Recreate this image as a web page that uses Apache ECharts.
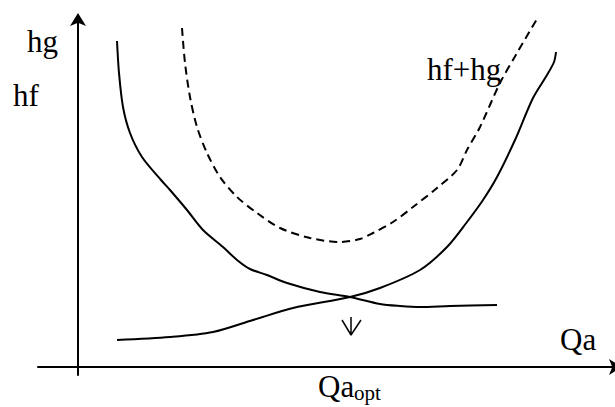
<!DOCTYPE html>
<html>
<head>
<meta charset="utf-8">
<script src="https://cdn.jsdelivr.net/npm/echarts@6/dist/echarts.min.js"></script>
<style>
  html, body { margin: 0; padding: 0; background: #fff; }
  #chart { width: 615px; height: 407px; }
</style>
</head>
<body>
<div id="chart"></div>
<script>
// hf: friction loss, falls with Qa
const hfPoints = [
  [3.9, 32.6], [4.1, 29.4], [4.5, 26.0], [5.2, 23.4], [6.4, 21.0], [8.3, 18.7],
  [9.2, 17.7], [10.9, 15.7], [12.5, 13.7], [14.5, 12.0], [15.9, 10.7], [17.2, 9.8],
  [18.9, 9.2], [20.9, 8.4], [24.2, 7.5], [27.2, 7.0], [30.2, 6.3], [32.2, 6.1],
  [34.2, 6.0], [37.2, 6.1], [41.9, 6.2]
];
// hg: rises with Qa
const hgPoints = [
  [3.9, 2.7], [9.2, 3.0], [13.5, 3.5], [17.5, 4.7], [21.5, 5.9], [27.2, 7.0],
  [30.2, 7.9], [34.2, 9.7], [36.9, 12.0], [38.9, 14.5], [40.5, 16.7], [41.9, 19.0],
  [43.7, 22.7], [45.5, 26.9], [46.9, 29.2], [47.6, 30.5], [47.8, 31.5]
];
// hf + hg
const sumPoints = [
  [10.4, 33.9], [10.7, 30.4], [11.2, 27.0], [11.9, 24.0], [12.9, 21.4], [14.2, 19.0],
  [15.9, 17.0], [17.9, 15.4], [20.2, 13.9], [23.2, 12.9], [26.2, 12.5], [28.2, 12.8],
  [29.5, 13.4], [31.5, 14.5], [33.5, 16.0], [35.9, 17.9], [37.9, 19.7], [38.9, 21.7],
  [40.2, 24.0], [42.2, 28.4], [43.9, 31.4], [45.9, 34.8]
];
// down arrow at Qa opt
const qaOpt = 27.3;
const arrowTop = 5.0;
const arrowTip = 3.2;
const arrowHead = [[26.4, 4.7], [28.3, 4.7]];

const font = "Liberation Serif";
const chart = echarts.init(document.getElementById("chart"), null, { renderer: "svg" });

function curve(name, data, dashed) {
  return {
    name: name,
    type: "line",
    data: data,
    smooth: 0.3,
    symbol: "none",
    lineStyle: { color: "#000", width: 2, type: dashed ? [8, 5] : "solid" },
  };
}

function label(text, x, y, size) {
  return {
    type: "text",
    x: x,
    y: y,
    style: { text: text, font: size + "px " + font, fill: "#000", verticalAlign: "middle" },
  };
}

let option = {
  animation: false,
  backgroundColor: "#fff",
  grid: { left: 38, right: 0, top: 19, bottom: 32 },
  xAxis: {
    type: "value",
    min: -4,
    max: 53.7,
    splitLine: { show: false },
    axisTick: { show: false },
    axisLabel: { show: false },
    axisLine: {
      onZero: true,
      symbol: ["none", "arrow"],
      symbolSize: [12, 13],
      symbolOffset: [0, 7],
      lineStyle: { color: "#000", width: 2 },
    },
  },
  yAxis: {
    type: "value",
    min: -0.8,
    max: 34.8,
    splitLine: { show: false },
    axisTick: { show: false },
    axisLabel: { show: false },
    axisLine: {
      onZero: true,
      symbol: ["none", "arrow"],
      symbolSize: [12, 13],
      symbolOffset: [0, 6],
      lineStyle: { color: "#000", width: 2 },
    },
  },
  series: [
    curve("hf", hfPoints, false),
    curve("hg", hgPoints, false),
    curve("hf+hg", sumPoints, true),
    {
      type: "line",
      symbol: "none",
      data: [[qaOpt, arrowTop], [qaOpt, arrowTip], arrowHead[0], [qaOpt, arrowTip], arrowHead[1]],
      lineStyle: { color: "#000", width: 1.5 },
    },
  ],
  graphic: [
    label("hg", 27, 41.5, 31),
    label("hf", 13, 95, 31),
    label("hf+hg", 427, 69.5, 31),
    label("Qa", 560, 339.5, 31),
    label("Qa", 318, 386.5, 31),
    label("opt", 354, 393, 21),
  ],
};

chart.setOption(option);
</script>
</body>
</html>
